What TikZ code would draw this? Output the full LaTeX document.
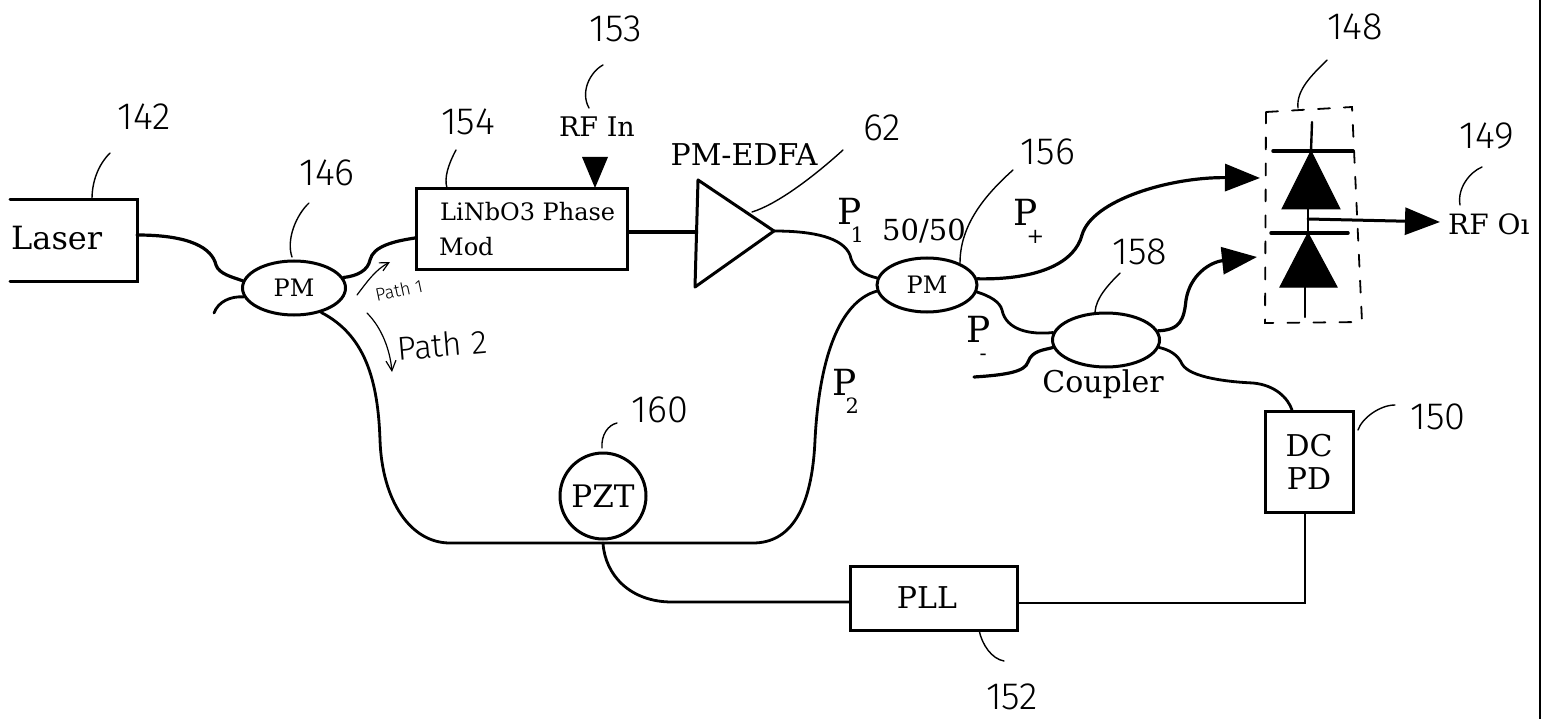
\documentclass[tikz,border=0pt]{standalone}
\usepackage{fontspec}
\setmainfont{DejaVu Serif}
\newfontfamily\handfont{Fira Sans Light}
\usetikzlibrary{shapes.geometric,arrows.meta,calc}
\newcommand{\fs}[1]{\fontsize{#1}{#1}\selectfont}
\newcommand{\subsc}[1]{\kern-.3em\raisebox{-.5em}{\fs{21}#1}}
\tikzset{
  boxnode/.style={draw,line width=3pt,rectangle,inner sep=0pt,fill=white},
  coup/.style={draw,line width=3pt,ellipse,inner sep=0pt,minimum height=54pt},
  fiber/.style={line width=3.2pt},
  thinfiber/.style={line width=2.8pt},
  leader/.style={line width=1.4pt},
  hand/.style={inner sep=0pt,font=\handfont\fs{38}},
  lab/.style={inner sep=0pt,font=\fs{29}},
  bighead/.style={-{Triangle[length=35pt,width=27pt]}},
  diodebar/.style={line width=3.5pt},
  diodewire/.style={line width=2.4pt},
  diodetri/.style={fill=black,draw=black,line width=1pt},
}
\begin{document}
\begin{tikzpicture}[x=1pt,y=-1pt,line cap=round]
\useasboundingbox (0,0) rectangle (1546,719);
\fill[white] (0,0) rectangle (1546,719);
\draw[line width=2.6pt] (1540,0) -- (1540,719);

% Boxes
\coordinate (lasertl) at (10,200);
\coordinate (laserbl) at (10,281);
\coordinate (lasertr) at (137,200);
\coordinate (laserbr) at (137,281);
\coordinate (laserout) at (137,235);
\draw[line width=3pt] (lasertl) -- (lasertr) -- (laserbr) -- (laserbl);
\node[lab,font=\fs{32},anchor=west] (laser) at (11,238) {Laser};

\node[boxnode,minimum width=211pt,minimum height=81pt] (mod) at (522,229) {};
\node[lab,anchor=west,font=\fs{24}] (modt1) at (440,212) {LiNbO3 Phase};
\node[lab,anchor=west,font=\fs{24}] (modt2) at (439,247) {Mod};

\node[boxnode,minimum width=167pt,minimum height=64pt] (pll) at (934,598) {\hspace{-14pt}\fs{30}PLL};
\node[boxnode,minimum width=88pt,minimum height=101pt,align=center] (dcpd) at (1309,462) {\fs{30}DC\\[9pt]\fs{30}PD};

% Couplers
\node[coup,minimum width=103pt] (pma) at (294,288) {\fs{24}PM};
\node[coup,minimum width=100pt] (pmb) at (927,285) {\fs{24}PM};
\node[coup,minimum width=107pt] (cpl) at (1106,340) {};
\node[lab,font=\fs{30}] (cpltext) at (1103,384) {Coupler};
\node[circle,draw,line width=3pt,minimum size=86pt,inner sep=0pt,fill=white] (pzt) at (603,496) {\fs{31}PZT};

% Amplifier
\coordinate (ampa) at (698,180);
\coordinate (ampb) at (774,231);
\coordinate (ampc) at (695,287);
\draw[line width=3pt,line join=round] (ampa) -- (ampb) -- (ampc) -- cycle;
\coordinate (ampin) at (696.5,232);
\node[lab,font=\fs{30}] (edfa) at (744,155) {PM-EDFA};

% Fibres
\draw[fiber] (laserout) .. controls (190,235) and (212,248) .. (216,265) .. controls (219,274) and (232,277) .. (pma.172);
\coordinate (freea) at (214,313);
\draw[thinfiber] (freea) .. controls (218,302) and (230,296) .. (pma.190);
\draw[fiber] (pma.12) .. controls (358,276) and (368,270) .. (370,260) .. controls (373,246) and (395,241) .. (mod.west |- 0,238);
\draw[fiber] (mod.east |- 0,232) -- (ampin);
\draw[thinfiber] (ampb) .. controls (815,231) and (843,238) .. (850,255) .. controls (853,270) and (865,275) .. (pmb.172);
\coordinate (bendl) at (450,543);
\coordinate (bendr) at (753,543);
\coordinate (pztfoot) at (603,543);
\draw[thinfiber] (pma.-42) .. controls (365,335) and (378,380) .. (380,440) .. controls (382,500) and (410,543) .. (bendl) -- (pztfoot) -- (bendr)
  .. controls (790,543) and (812,510) .. (815,440) .. controls (820,345) and (845,300) .. (pmb.187);
\draw[thinfiber] (pztfoot) .. controls (605,575) and (630,602) .. (672,602) -- (pll.west |- 0,602);
\coordinate (corner) at (1305,603);
\draw[thinfiber] (pll.east |- 0,603) -- (corner) -- (dcpd.south -| corner);
\coordinate (freeb) at (974,377);
\draw[fiber] (freeb) .. controls (1005,375) and (1025,372) .. (1028,362) .. controls (1032,350) and (1045,350) .. (cpl.188);
\draw[thinfiber] (pmb.-8) .. controls (990,296) and (1000,302) .. (1002,310) .. controls (1006,330) and (1030,335) .. (cpl.172);
\coordinate (tipa) at (1260,178);
\coordinate (tipb) at (1257,257);
\draw[fiber,bighead] (pmb.7) .. controls (1040,280) and (1075,262) .. (1082,235) .. controls (1092,200) and (1170,177) .. (tipa);
\draw[fiber,bighead] (cpl.10) .. controls (1180,330) and (1184,320) .. (1186,300) .. controls (1190,275) and (1210,262) .. (tipb);
\draw[thinfiber] (cpl.-8) .. controls (1170,350) and (1178,355) .. (1182,364) .. controls (1190,378) and (1230,382) .. (1253,383) .. controls (1275,385) and (1288,398) .. (dcpd.north -| 1292,0);

% RF input
\coordinate (rfa) at (582,157);
\coordinate (rfb) at (608,157);
\coordinate (rfc) at (595,188);
\fill (rfa) -- (rfb) -- (rfc) -- cycle;
\node[lab,font=\fs{27}] (rfin) at (597,127) {RF In};

% Detector pair
\draw[line width=1.8pt,dash pattern=on 12pt off 14pt] (1266,112) -- (1352,107) -- (1362,322) -- (1265,323) -- cycle;
\coordinate (da) at (1312,122);
\coordinate (db) at (1311,151);
\coordinate (dc) at (1308,209);
\coordinate (dd) at (1308,233);
\coordinate (de) at (1305,287);
\coordinate (df) at (1305,317);
\coordinate (dj) at (1308,219);
\coordinate (rfoutp) at (1440,222);
\draw[diodewire] (da) -- (db);
\draw[diodebar] (1273,151) -- (1353,151);
\draw[diodetri] (db) -- (1282,209) -- (1340,209) -- cycle;
\draw[diodewire] (dc) -- (dd);
\draw[diodebar] (1271,233) -- (1348,233);
\draw[diodetri] (dd) -- (1280,287) -- (1337,287) -- cycle;
\draw[diodewire] (de) -- (df);
\draw[line width=3pt,bighead] (dj) -- (rfoutp);
\node[lab,font=\fs{28},anchor=west] (rfout) at (1448,224) {RF O\i};

% Small path marks
\coordinate (pa) at (357,295);
\coordinate (pb) at (390,262);
\draw[line width=1.2pt,-{Straight Barb[length=9pt,width=9pt]}] (pa) .. controls (367,282) and (375,270) .. (pb);
\node[hand,font=\handfont\fs{18},rotate=12] (path1) at (399,290) {Path 1};
\coordinate (pc) at (367,313);
\coordinate (pd) at (392,372);
\draw[line width=1.2pt,-{Straight Barb[length=10pt,width=10pt]}] (pc) .. controls (382,328) and (390,350) .. (pd);
\node[hand,font=\handfont\fs{33},rotate=5] (path2) at (442,345) {Path 2};

% Port labels
\node[lab,font=\fs{36},anchor=north west] (p1) at (837,198) {P\subsc{1}};
\node[lab,font=\fs{29}] (ratio) at (924,231) {50/50};
\node[lab,font=\fs{36},anchor=north west] (pplus) at (1013,199) {P\subsc{+}};
\node[lab,font=\fs{36},anchor=north west] (pminus) at (966,316) {P\subsc{-}};
\node[lab,font=\fs{36},anchor=north west] (p2) at (832,369) {P\subsc{2}};

% Hand reference numbers
\node[hand] (n153) at (616,29) {153};
\node[hand] (n142) at (144,117) {142};
\node[hand] (n154) at (468,122) {154};
\node[hand] (n146) at (327,173) {146};
\node[hand] (n62) at (882,128) {62};
\node[hand] (n156) at (1048,152) {156};
\node[hand] (n158) at (1140,252) {158};
\node[hand] (n148) at (1355,27) {148};
\node[hand] (n149) at (1487,136) {149};
\node[hand] (n150) at (1438,417) {150};
\node[hand] (n160) at (660,410) {160};
\node[hand] (n152) at (1012,697) {152};

% Leaders
\draw[leader] (603,65) .. controls (590,72) and (580,92) .. (589,108);
\draw[leader] (110,153) .. controls (98,165) and (92,182) .. (92,199);
\draw[leader] (456,150) .. controls (448,165) and (444,178) .. (447,188);
\draw[leader] (309,203) .. controls (296,215) and (286,240) .. (292,257);
\draw[leader] (843,150) .. controls (810,180) and (775,205) .. (752,212);
\draw[leader] (1013,170) .. controls (985,195) and (960,225) .. (960,263);
\draw[leader] (1120,273) .. controls (1108,285) and (1096,298) .. (1095,312);
\draw[leader] (1327,60) .. controls (1312,75) and (1296,90) .. (1298,108);
\draw[leader] (1482,167) .. controls (1470,172) and (1457,188) .. (1460,205);
\draw[leader] (1395,405) .. controls (1380,405) and (1362,418) .. (1358,430);
\draw[leader] (617,423) .. controls (608,425) and (601,435) .. (602,448);
\draw[leader] (979,630) .. controls (982,645) and (992,659) .. (1004,661);
\end{tikzpicture}
\end{document}
